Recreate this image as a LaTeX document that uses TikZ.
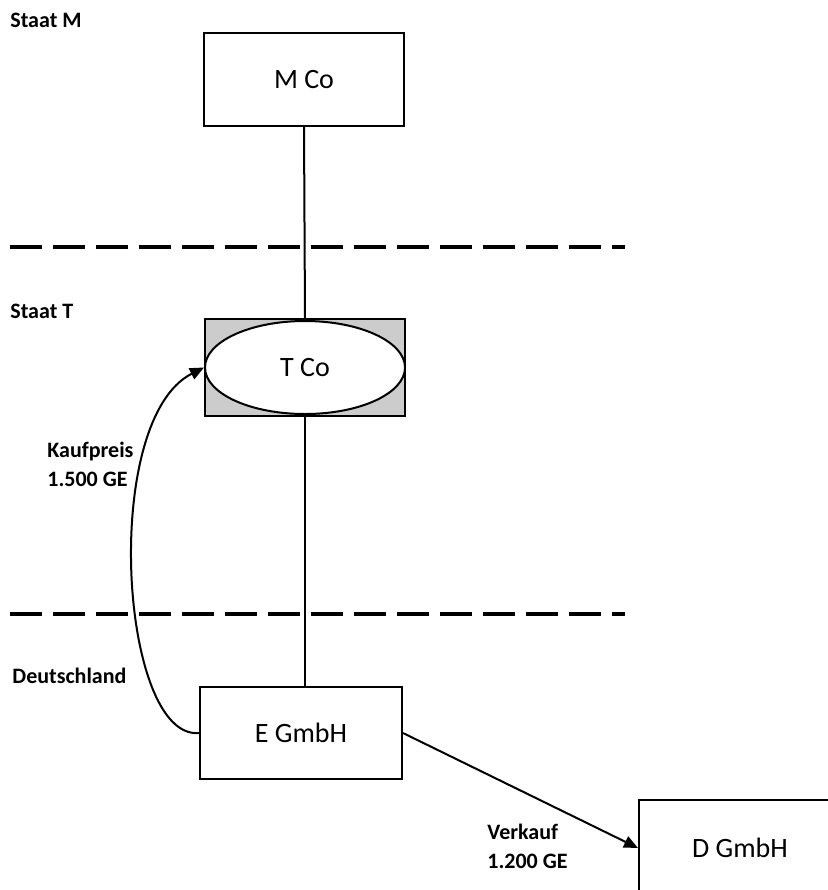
\documentclass[tikz,border=0pt]{standalone}
\usepackage{fontspec}
\setmainfont{Carlito}
\usetikzlibrary{arrows.meta,shapes.geometric}

\begin{document}
\begin{tikzpicture}[x=0.5pt,y=-0.5pt,
    firma/.style={draw,line width=1pt,minimum width=100pt,minimum height=46.5pt,inner sep=0pt,font=\fontsize{14}{17}\selectfont},
    staat/.style={anchor=base west,inner sep=0pt,font=\bfseries\fontsize{11}{14.5}\selectfont},
    grenze/.style={line width=1.8pt,dash pattern=on 16pt off 5.5pt},
    fluss/.style={line width=1pt,-{Triangle[length=7pt,width=6pt]}}]
        \useasboundingbox (0,0) rectangle (828,890);
        % Staaten
        \node[staat] (lblM) at (10,27) {Staat M};
        \node[staat] (lblT) at (10,318) {Staat T};
        \node[staat] (lblD) at (12,683) {Deutschland};
        \draw[grenze] (10,247)--(625,247);
        \draw[grenze] (10,614)--(625,614);
        % Gesellschaften
        \node[firma] (MCo) at (304,79.5) {M Co};
        \node[firma,fill=gray!40,minimum height=48.5pt] (TBox) at (305,367.5) {};
        \node[firma,ellipse,fill=white] (TCo) at (305,367.5) {T Co};
        \node[firma,minimum width=101pt,minimum height=46pt] (EGmbH) at (301,733) {E GmbH};
        \node[firma,minimum width=101pt,minimum height=48pt] (DGmbH) at (740,848) {D GmbH};
        % Beteiligungen
        \draw[line width=1pt] (MCo.south)--(TBox.north);
        \draw[line width=1pt] (TBox.south)--(TBox.south |- EGmbH.north);
        % Zahlungen
        \draw[fluss] (EGmbH.west) .. controls (120,740) and (100,420) .. (TCo.west);
        \draw[fluss] (EGmbH.east)--(DGmbH.west);
        \node[staat,align=left,anchor=north west] (kauf) at (47,442) {Kaufpreis\\1.500 GE};
        \node[staat,align=left,anchor=north west] (verk) at (487,824) {Verkauf\\1.200 GE};
\end{tikzpicture}
\end{document}
